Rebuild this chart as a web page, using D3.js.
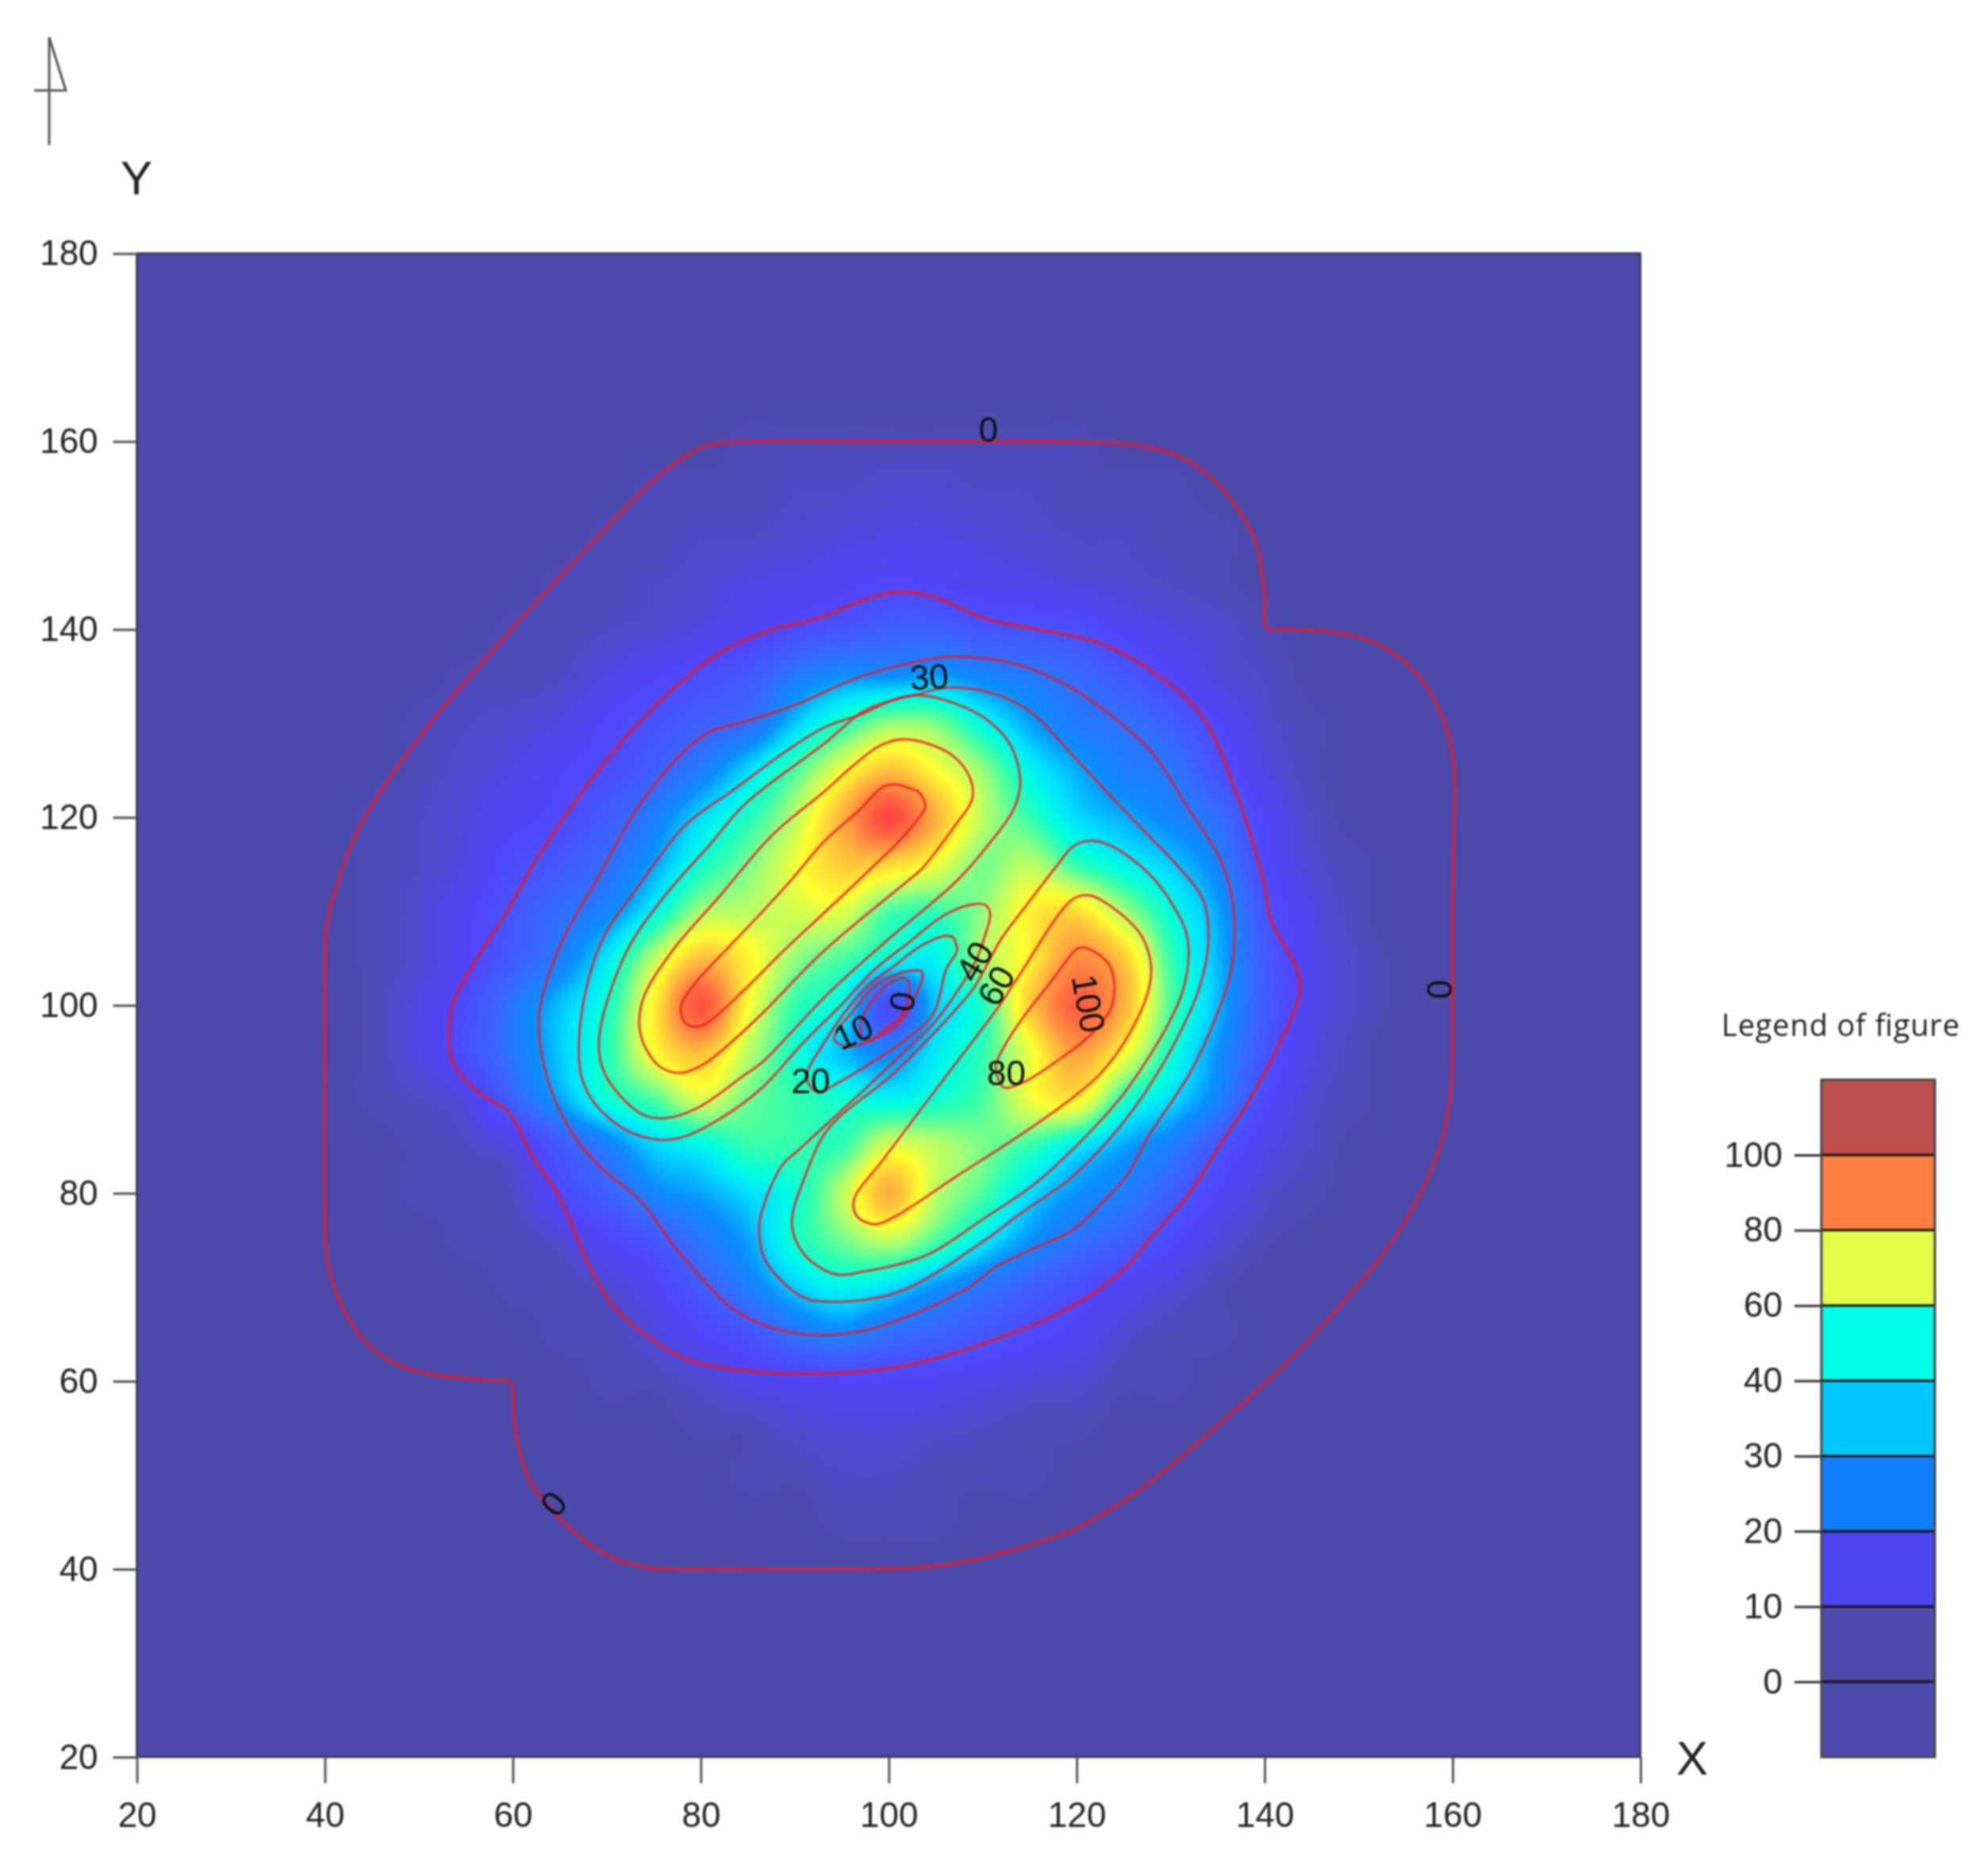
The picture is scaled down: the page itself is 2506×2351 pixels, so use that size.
<!DOCTYPE html>
<html>
<head>
<meta charset="utf-8">
<script src="https://cdn.jsdelivr.net/npm/d3@7"></script>
<style>
  html, body { margin: 0; background: #fff; }
  svg { display: block; filter: blur(0.8px); }
  text { font-family: "Liberation Sans", Arial, sans-serif; fill: #222; }
</style>
</head>
<body>
<svg id="chart" width="2506" height="2351"></svg>
<script>
const xTicks = [20, 40, 60, 80, 100, 120, 140, 160, 180];
const yTicks = [20, 40, 60, 80, 100, 120, 140, 160, 180];

// heat values, 5 unit grid
const heatXs = [40, 45, 50, 55, 60, 65, 70, 75, 80, 85, 90, 95, 100, 105, 110, 115, 120, 125, 130, 135, 140, 145, 150, 155, 160];
const heatYs = [160, 155, 150, 145, 140, 135, 130, 125, 120, 115, 110, 105, 100, 95, 90, 85, 80, 75, 70, 65, 60, 55, 50, 45, 40];
const heatRows = [
  [0,0,0,0,0,0,0,0,0,1,1,1,1,1,1,1,1,0,0,0,0,0,0,0,0],
  [0,0,0,0,0,0,0,1,1,1,2,2,3,3,2,2,1,1,1,0,0,0,0,0,0],
  [0,0,0,0,0,0,1,1,2,2,3,4,5,5,4,3,2,2,1,1,0,0,0,0,0],
  [0,0,0,0,0,1,1,2,3,5,6,8,10,9,7,6,4,3,2,1,0,0,0,0,0],
  [0,0,0,0,1,1,2,3,5,8,12,15,18,18,15,14,13,8,5,3,1,0,0,0,0],
  [0,0,0,1,1,2,5,9,13,16,25,30,30,32,28,25,21,16,10,4,2,0,0,0,0],
  [0,0,1,2,3,5,10,14,18,22,36,48,58,56,43,32,25,23,18,10,3,1,0,0,0],
  [0,0,1,3,5,9,12,18,26,38,52,68,80,70,58,42,33,26,24,14,5,1,0,0,0],
  [0,1,2,4,8,11,17,26,38,48,62,82,100,82,62,50,38,33,28,22,9,2,0,0,0],
  [0,1,2,5,12,16,22,32,46,56,68,78,76,68,56,62,50,42,36,27,11,3,1,0,0],
  [0,1,3,8,15,22,28,42,60,62,65,66,52,50,58,72,75,60,44,32,15,5,1,0,0],
  [0,1,3,9,17,26,40,62,80,72,58,52,44,42,60,72,88,78,50,34,17,6,2,0,0],
  [0,1,5,12,24,35,46,72,98,70,50,42,12,36,48,78,96,82,52,34,17,6,2,0,0],
  [0,1,5,13,24,36,48,70,80,62,46,35,28,40,50,68,85,70,46,30,15,5,1,0,0],
  [0,1,2,5,19,32,45,52,65,55,50,46,42,46,52,68,72,48,38,27,11,3,1,0,0],
  [0,0,1,2,5,16,26,37,42,50,50,50,66,62,56,50,40,32,26,15,6,2,0,0,0],
  [0,0,1,1,2,11,18,28,32,38,45,62,82,62,52,38,30,26,18,9,3,1,0,0,0],
  [0,0,0,1,1,3,9,15,24,32,46,55,62,52,40,30,23,18,11,4,1,0,0,0,0],
  [0,0,0,0,1,1,3,8,17,26,36,42,38,30,24,18,13,8,4,1,0,0,0,0,0],
  [0,0,0,0,0,1,1,4,9,14,23,27,22,19,15,11,8,3,1,1,0,0,0,0,0],
  [0,0,0,0,0,0,1,1,3,6,8,9,9,8,6,4,3,1,1,0,0,0,0,0,0],
  [0,0,0,0,0,0,0,0,1,1,3,4,4,3,2,1,1,0,0,0,0,0,0,0,0],
  [0,0,0,0,0,0,0,0,0,1,1,2,2,1,1,1,0,0,0,0,0,0,0,0,0],
  [0,0,0,0,0,0,0,0,0,0,0,1,1,1,0,0,0,0,0,0,0,0,0,0,0],
  [0,0,0,0,0,0,0,0,0,0,0,0,0,0,0,0,0,0,0,0,0,0,0,0,0]
];
const rampStops = [0, 2, 5, 10, 20, 30, 38, 44, 50, 60, 70, 85, 100];
const rampColors = ["#4c4bab", "#4e4ac6", "#4f47e6", "#5046fc", "#3a66ff", "#0a90ff", "#00e0ff", "#00ffe0", "#30ffb0", "#aaff70", "#ffff30", "#ffa040", "#ff4840"];

// contour lines as [x, y]
const line0 = [[80.3,159.5],[82,159.8],[85,160],[100,160],[110,160],[122.8,159.9],[127,159.5],[130.9,158.4],[134.5,156],[137,153],[139,149.5],[139.7,146.3],[140,143],[140,140.6],[140.4,140],[141.5,140],[145.7,139.9],[149.5,139.3],[152.5,138.2],[155.5,136],[157.9,132.8],[159.5,129],[160.2,124.7],[160.2,120.6],[160,110],[160,100],[160,95],[159.7,90],[159,86],[157.9,82.9],[155.5,78],[152.5,73.4],[148,68],[143,62.6],[134.9,55.2],[126.8,48.5],[120.1,44.4],[116,42.9],[112,41.7],[107,40.6],[102,40.1],[90,40],[80,40],[74.2,40.2],[70,41.5],[66,44.4],[63.5,47],[62,49],[60.7,52.5],[60.1,56],[60,59.2],[59.6,60],[58,60.1],[55.3,60.3],[51,60.8],[47.2,62],[44.5,64],[42.5,66.7],[41,70],[40.2,73.4],[40,78.8],[40,90],[40,99],[40.2,108.5],[41.2,112.5],[43.2,118],[45.9,122.7],[51.3,130.1],[59.4,139.5],[68.8,149.6],[75.6,156.4]];
const line10 = [[59.5,110.2],[62.2,115],[66.5,121.5],[70.7,127],[76.3,133],[82,137.5],[87.6,140],[92.6,141.2],[97,143],[100.9,144],[105,143.4],[110.1,141.2],[116.4,139.9],[122.3,138.6],[128.1,135.5],[133.3,130.8],[136.9,122.8],[139.9,113.2],[140.7,109],[143.6,103.5],[143.7,101.1],[141.9,96.6],[138.2,89.6],[135.4,85.4],[132,80],[128.1,75.5],[125,71.9],[120.1,68.3],[110.4,64.1],[100.8,61.5],[91.1,60.8],[82.5,61.4],[78.6,62.3],[74,65],[70.7,68],[68.1,72.3],[66.5,76.1],[64.5,80.4],[62.2,83.7],[59.5,88.6],[56,91],[53.6,94],[53.2,97],[53.7,100.4],[56.5,105.5]];
const line20 = [[62.8,98.9],[65.1,106.5],[69,113.5],[73.6,121.5],[78.6,127.4],[81.4,129.3],[84.8,130.2],[90.4,132.1],[96,134.6],[101.7,136.3],[107.1,137.1],[113.6,136.3],[119.4,133.8],[125.2,129.6],[128.1,126.8],[131.9,120.9],[135.4,115.3],[136.7,110.2],[136.5,104.1],[134.8,98.7],[132,92.7],[127.6,86],[125.3,81.8],[122.8,79.1],[119.6,76.1],[115.8,74.3],[111.5,72.2],[107.9,69.6],[97.5,65.4],[91.1,65],[87.2,65.8],[83.4,67.7],[80.6,70.4],[77,74.6],[73.6,79.2],[69.3,82.8],[66.5,86.1],[63.7,92.1]];
const line30 = [[106,133.8],[110.7,133.3],[115,131.3],[119.4,126.8],[122.3,123.7],[125.2,120.6],[128.1,117.6],[130.6,115],[133.5,111.1],[134,106.5],[133.1,102],[130.9,96.9],[127.6,91.2],[124.2,86.6],[119.6,81.8],[113.7,77.6],[110.1,74.9],[100.8,69.4],[92.7,68.5],[90.4,69.2],[86.9,72.8],[86.2,76.1],[86.6,78.4],[88.6,82.9],[90.4,84.6],[97.7,91.3],[101.9,95.3],[104.8,98.1],[107.3,101.5],[109.3,104.8],[110.3,107.6],[110.8,109.7],[110.4,110.6],[109.3,110.8],[106.1,109.7],[101.9,106.5],[98.5,103.8],[94.9,100],[90.7,95.8],[86.5,91.2],[82,87.9],[77.8,85.9],[74.7,85.8],[70.7,87.6],[67.6,91.5],[67.1,97.2],[69.3,106.5],[73.6,113],[77.8,118.6],[79.7,120.3],[83.3,122.8],[89,127],[93.2,129.6],[97.2,131],[100.2,132.4],[103.1,133.1]];
const line40Upper = [[72.1,105.7],[69.2,96.6],[69.8,92.7],[73.6,88.5],[76.3,88],[79.7,89.1],[84.8,92.7],[86.5,93.9],[93.5,101.2],[99.7,106.8],[107.3,113.3],[110.7,117.2],[113.3,120.9],[114,123.7],[113,127.6],[110.7,130.2],[107.1,132.1],[103.1,133],[100.2,132.4],[97.3,131.3],[93.2,127.9],[84.8,121.5],[80.8,116.9],[76.3,111.8]];
const line40Lower = [[109.8,103.1],[112,107.1],[114.7,110.7],[117.7,114.6],[119.6,116.9],[121.3,117.5],[123.4,117.1],[127.6,114.1],[130.4,110.4],[131.8,107.1],[131.5,102.3],[129.8,98.1],[125,90.6],[121.3,86.4],[115.8,81.2],[110.1,77.3],[104,73.4],[97.5,71.7],[94.3,71.4],[91.1,73.4],[89.7,76.7],[91.1,81.8],[93.6,86.9],[100.8,93],[108.8,101.5]];
const line60Upper = [[76.9,105.7],[73.8,100.5],[73.6,96.9],[75.5,93.6],[77.8,92.8],[79.7,93.4],[81.4,94.5],[86.2,98.8],[93,105.7],[102.1,113.3],[103.4,114.4],[107.1,119.2],[108.9,122],[108.6,124.3],[106.9,126.5],[104.3,127.8],[101.3,128.3],[99,127.6],[96.1,125.4],[93.2,122.8],[87.6,118.1],[82,111.6]];
const line60Lower = [[113.7,102.9],[119.6,111.3],[121.3,111.7],[123.4,110.7],[126.7,107.7],[127.8,105],[127.8,102.3],[125.9,97.5],[122.5,92.7],[119.6,90.2],[114.3,86.4],[107.2,81.8],[100.8,77.6],[98.5,76.7],[96.6,77.6],[96.3,79.3],[99.5,83.7],[105.9,92.2],[111.8,100]];
const line80Upper = [[77.9,99.9],[78.3,98.2],[79.5,97.7],[80.8,98.2],[84.8,101.8],[88.7,105.7],[93.2,109.9],[96.8,113.3],[101.7,118.1],[103.6,120.5],[103.9,121.1],[103.3,122.6],[101.9,123.2],[100.8,123.5],[99.3,123.2],[97,120.9],[93.2,117.5],[89.6,113.3],[86.5,109.9],[82.5,105.7],[79.7,102.7]];
const line80Lower = [[120.2,106.1],[121.3,106],[123.4,104.4],[124,102.3],[123.6,99.6],[121.3,96.7],[118.5,94.5],[114.3,91.8],[112.2,91.3],[111.4,93.5],[112,95.1],[114.3,98.7],[117.1,102.3],[119.6,105.6]];
const linePit20 = [[107.1,106.7],[107.3,105.9],[106.1,103.8],[104.8,99.2],[101.9,96.4],[97.7,93.6],[93.8,91.3],[92.6,90.7],[91.5,91.6],[91.4,93],[93,95.8],[94.9,98.7],[97.7,102],[100.6,104.2],[103.4,106.3],[106.1,107.4],[106.9,107.2]];
const linePit10 = [[103.5,103.6],[103.6,102.9],[102.8,100.9],[101.1,98.1],[98.3,96.4],[95.7,95.6],[94.2,96.4],[94.9,97.8],[96.3,99.5],[98.5,102],[101.1,103.4],[103.1,103.7]];
const linePit0 = [[101.8,102.9],[102.2,101.5],[101.4,98.9],[99.4,97.3],[98,96.2],[97.1,96.6],[97.3,98.9],[100,102.3]];
const contourLines = [line0, line10, line20, line30, line40Upper, line40Lower, line60Upper, line60Lower, line80Upper, line80Lower, linePit20, linePit10, linePit0];

// labels on the contours: text, x, y, rotation
const labelTexts = ["0", "0", "0", "30", "40", "60", "80", "20", "10", "0", "100"];
const labelXs = [110.6, 158.6, 64.3, 104.3, 109.1, 111.4, 112.5, 91.7, 96.2, 101.4, 121.3];
const labelYs = [161.3, 101.7, 47, 135, 104.7, 102.1, 92.8, 92, 97.2, 100.4, 100.2];
const labelAngles = [0, 90, -50, -3, -60, -60, 0, 0, -25, -80, 80];

const legendLevels = [100, 80, 60, 40, 30, 20, 10, 0];
const legendColors = ["#c0504d", "#ff7f3f", "#e5ff48", "#00ffe8", "#00c8ff", "#0f7fff", "#4b46f0", "#4c4bab", "#4c4bab"];

const xScale = d3.scaleLinear().domain([20, 180]).range([172.6, 2068]);
const yScale = d3.scaleLinear().domain([20, 180]).range([2215, 319.6]);
const colorScale = d3.scaleLinear().domain(rampStops).range(rampColors).clamp(true);

const svg = d3.select("#chart");

// catmull-rom on the grid, then colour through a lookup table
function cubic(a, b, c, d, t) {
  return b + 0.5 * t * (c - a + t * (2 * a - 5 * b + 4 * c - d + t * (3 * (b - c) + d - a)));
}
function heatAt(x, y) {
  const gx = (x - heatXs[0]) / 5, gy = (heatYs[0] - y) / 5;
  const cx = Math.floor(gx), cy = Math.floor(gy);
  const get = (r, c) => (heatRows[r] && heatRows[r][c]) || 0;
  const col = [];
  for (let r = -1; r <= 2; r++) {
    col.push(cubic(get(cy + r, cx - 1), get(cy + r, cx), get(cy + r, cx + 1), get(cy + r, cx + 2), gx - cx));
  }
  return cubic(col[0], col[1], col[2], col[3], gy - cy);
}

const lut = d3.range(1001).map(i => d3.rgb(colorScale(i / 10)));
const plotW = Math.round(xScale(180) - xScale(20));
const plotH = Math.round(yScale(20) - yScale(180));
const canvas = document.createElement("canvas");
canvas.width = plotW;
canvas.height = plotH;
const ctx = canvas.getContext("2d");
const img = ctx.createImageData(plotW, plotH);
for (let py = 0; py < plotH; py++) {
  const y = yScale.invert(yScale(180) + py);
  for (let px = 0; px < plotW; px++) {
    const x = xScale.invert(xScale(20) + px);
    const v = Math.max(0, Math.min(100, heatAt(x, y)));
    const c = lut[Math.round(v * 10)];
    const k = (py * plotW + px) * 4;
    img.data[k] = c.r; img.data[k + 1] = c.g; img.data[k + 2] = c.b; img.data[k + 3] = 255;
  }
}
ctx.putImageData(img, 0, 0);

svg.append("image")
  .attr("href", canvas.toDataURL())
  .attr("x", xScale(20)).attr("y", yScale(180))
  .attr("width", plotW).attr("height", plotH);

// contours
const contourPath = d3.line()
  .x(d => xScale(d[0]))
  .y(d => yScale(d[1]))
  .curve(d3.curveCatmullRomClosed.alpha(0.5));

svg.append("g").selectAll("path")
  .data(contourLines)
  .join("path")
  .attr("d", contourPath)
  .attr("fill", "none")
  .attr("stroke", "#f01820")
  .attr("stroke-opacity", 0.78)
  .attr("stroke-width", (d, i) => i < 2 ? 3.8 : 3.2);

svg.append("g").selectAll("text")
  .data(labelTexts)
  .join("text")
  .attr("transform", (d, i) => `translate(${xScale(labelXs[i])},${yScale(labelYs[i])}) rotate(${labelAngles[i]})`)
  .attr("text-anchor", "middle")
  .attr("dy", "0.36em")
  .attr("font-size", 44)
  .style("fill", "#111")
  .text(d => d);

// plot frame and axes
svg.append("rect")
  .attr("x", xScale(20)).attr("y", yScale(180))
  .attr("width", plotW).attr("height", plotH)
  .attr("fill", "none")
  .attr("stroke", "#3c3a58")
  .attr("stroke-width", 3);

const xAxis = svg.append("g")
  .attr("transform", `translate(0,${yScale(20)})`)
  .call(d3.axisBottom(xScale).tickValues(xTicks).tickSize(33).tickPadding(24));
const yAxis = svg.append("g")
  .attr("transform", `translate(${xScale(20)},0)`)
  .call(d3.axisLeft(yScale).tickValues(yTicks).tickSize(30).tickPadding(19));
[xAxis, yAxis].forEach(axis => {
  axis.select(".domain").remove();
  axis.selectAll(".tick line").attr("stroke", "#555").attr("stroke-width", 3);
  axis.selectAll("text").attr("font-size", 44).attr("font-family", "Liberation Sans");
});

svg.append("text").attr("x", 172).attr("y", 245).attr("text-anchor", "middle").attr("font-size", 60).text("Y");
svg.append("text").attr("x", 2133).attr("y", 2237).attr("text-anchor", "middle").attr("font-size", 60).text("X");

// north arrow
svg.append("path")
  .attr("d", "M62,183V47L83,114H43")
  .attr("fill", "none")
  .attr("stroke", "#555")
  .attr("stroke-width", 3);

// legend
const legendX = 2296, legendW = 143;
const legendY = d3.scalePoint().domain(legendLevels).range([1456, 2120]);
const legendStep = legendY.step();
const bandTops = [legendY(100) - legendStep].concat(legendLevels.map(d => legendY(d)));

svg.append("text")
  .attr("x", 2170).attr("y", 1306)
  .attr("font-size", 38)
  .style("font-family", "'Open Sans'")
  .attr("textLength", 300)
  .text("Legend of figure");

svg.append("g").selectAll("rect")
  .data(legendColors)
  .join("rect")
  .attr("x", legendX)
  .attr("y", (d, i) => bandTops[i])
  .attr("width", legendW)
  .attr("height", legendStep)
  .attr("fill", d => d);

svg.append("g").selectAll("line")
  .data(legendLevels)
  .join("line")
  .attr("x1", legendX).attr("x2", legendX + legendW)
  .attr("y1", d => legendY(d)).attr("y2", d => legendY(d))
  .attr("stroke", "#111").attr("stroke-width", 3);

svg.append("rect")
  .attr("x", legendX).attr("y", bandTops[0])
  .attr("width", legendW).attr("height", legendStep * legendColors.length)
  .attr("fill", "none")
  .attr("stroke", "#444").attr("stroke-width", 3);

const legendAxis = svg.append("g")
  .attr("transform", `translate(${legendX},0)`)
  .call(d3.axisLeft(legendY).tickSize(34).tickPadding(15));
legendAxis.select(".domain").remove();
legendAxis.selectAll(".tick line").attr("stroke", "#333").attr("stroke-width", 3);
legendAxis.selectAll("text").attr("font-size", 44).attr("font-family", "Liberation Sans");
</script>
</body>
</html>
